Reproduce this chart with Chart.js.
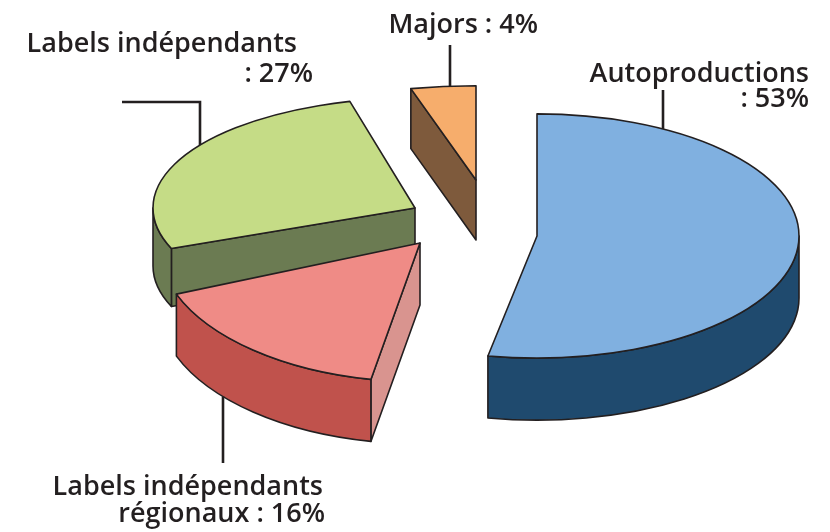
<!DOCTYPE html>
<html><head><meta charset="utf-8">
<script src="https://cdn.jsdelivr.net/npm/chart.js@4.4.1/dist/chart.umd.min.js"></script>
<style>html,body{margin:0;padding:0;background:#fff;}#wrap{width:830px;height:532px;}</style>
</head><body>
<div id="wrap"><canvas id="c" width="830" height="532"></canvas></div>
<script>
// ---- data ----
const categories = ["Autoproductions", "Labels indépendants régionaux", "Labels indépendants", "Majors"];
const values = [53, 16, 27, 4];
const labelLines = [
  [categories[0], ": " + values[0] + "%"],
  ["Labels indépendants", "régionaux : " + values[1] + "%"],
  [categories[2], ": " + values[2] + "%"],
  [categories[3] + " : " + values[3] + "%"]
];

// ---- style ----
const topColors  = ["#80b0e0", "#ef8b86", "#c5dc86", "#f6ad6c"];
const wallColors = ["#1f4a6e", "#c0524c", "#6b7b52", "#7e5a3c"];
const sideColors = ["#1f4a6e", "#d9948f", "#6b7b52", "#7e5a3c"];
const shift = [[59, 6], [-58, 13], [-63, -22], [-2, -50]];   // exploded offsets
const tilt  = [0.466, 0.53, 0.42, 0.36];
const depth = [62, 62, 58, 60];
const labelPos = [
  { lines: [[809, 82], [809, 107]], leader: [[663, 90]], end: 'top' },
  { lines: [[323, 495], [325, 522]], leader: [[223, 463]], end: 'bottom' },
  { lines: [[297, 52], [313, 82]], leader: [[122, 102], [200, 102]], end: 'top' },
  { lines: [[538, 33]], leader: [[450, 45]], end: 'top' }
];
const INK = "#231f20";

function geom(chart, i) {
  const arc = chart.getDatasetMeta(0).data[i];
  return { arc, a0: arc.startAngle, a1: arc.endAngle, r: arc.outerRadius,
    k: tilt[i], D: depth[i], sx: arc.x + shift[i][0], sy: arc.y + shift[i][1] };
}
function P(g, th, dz) { return [g.sx + g.r * Math.cos(th), g.sy + g.k * g.r * Math.sin(th) + dz]; }

const pie3d = {
  id: 'pie3d',
  beforeDatasetsDraw(chart) {
    const ctx = chart.ctx;
    const n = chart.getDatasetMeta(0).data.length;
    const gs = [];
    for (let i = 0; i < n; i++) gs.push(Object.assign(geom(chart, i), { i }));
    gs.sort((a, b) => a.sy - b.sy);
    ctx.save();
    ctx.lineWidth = 1.6; ctx.strokeStyle = INK; ctx.lineJoin = 'round';
    for (const g of gs) {
      const faces = [];
      if (Math.cos(g.a0) < -1e-6) faces.push(g.a0);
      if (Math.cos(g.a1) > 1e-6) faces.push(g.a1);
      for (const a of faces) {
        const p = P(g, a, 0), q = P(g, a, g.D);
        ctx.beginPath();
        ctx.moveTo(g.sx, g.sy); ctx.lineTo(p[0], p[1]); ctx.lineTo(q[0], q[1]); ctx.lineTo(g.sx, g.sy + g.D);
        ctx.closePath();
        ctx.fillStyle = sideColors[g.i]; ctx.fill(); ctx.stroke();
      }
      const s = Math.max(g.a0, 0), e = Math.min(g.a1, Math.PI);
      if (e > s) {
        ctx.beginPath();
        ctx.ellipse(g.sx, g.sy, g.r, g.k * g.r, 0, s, e, false);
        ctx.ellipse(g.sx, g.sy + g.D, g.r, g.k * g.r, 0, e, s, true);
        ctx.closePath();
        ctx.fillStyle = wallColors[g.i]; ctx.fill(); ctx.stroke();
      }
      ctx.save();
      ctx.translate(g.sx, g.sy); ctx.scale(1, g.k); ctx.translate(-g.arc.x, -g.arc.y);
      g.arc.draw(ctx);
      ctx.restore();
      const p0 = P(g, g.a0, 0);
      ctx.beginPath();
      ctx.moveTo(g.sx, g.sy); ctx.lineTo(p0[0], p0[1]);
      ctx.ellipse(g.sx, g.sy, g.r, g.k * g.r, 0, g.a0, g.a1, false);
      ctx.closePath(); ctx.stroke();
    }
    ctx.restore();
    return false;
  },
  afterDraw(chart) {
    const ctx = chart.ctx;
    ctx.save();
    ctx.fillStyle = INK; ctx.strokeStyle = INK; ctx.lineWidth = 2.6;
    ctx.font = '600 27px "Open Sans", "Liberation Sans", sans-serif';
    ctx.textAlign = 'right'; ctx.textBaseline = 'alphabetic';
    labelPos.forEach((lp, i) => {
      labelLines[i].forEach((t, j) => ctx.fillText(t, lp.lines[j][0], lp.lines[j][1]));
      const g = geom(chart, i);
      const last = lp.leader[lp.leader.length - 1];
      const u = Math.max(-1, Math.min(1, (last[0] - g.sx) / g.r));
      const h = g.k * g.r * Math.sqrt(1 - u * u);
      const yEnd = lp.end === 'top' ? g.sy - h : g.sy + h + g.D;
      ctx.beginPath();
      ctx.moveTo(lp.leader[0][0], lp.leader[0][1]);
      for (let k = 1; k < lp.leader.length; k++) ctx.lineTo(lp.leader[k][0], lp.leader[k][1]);
      ctx.lineTo(last[0], yEnd);
      ctx.stroke();
    });
    ctx.restore();
  }
};

new Chart(document.getElementById('c'), {
  type: 'pie',
  data: {
    labels: categories,
    datasets: [{ data: values, backgroundColor: topColors, borderWidth: 0, radius: 262, clip: false }]
  },
  options: {
    responsive: false, animation: false,
    layout: { padding: { left: 126, right: 0, top: 0, bottom: 72 } },
    plugins: { legend: { display: false }, tooltip: { enabled: false } },
    events: []
  },
  plugins: [pie3d]
});
</script>
</body></html>
